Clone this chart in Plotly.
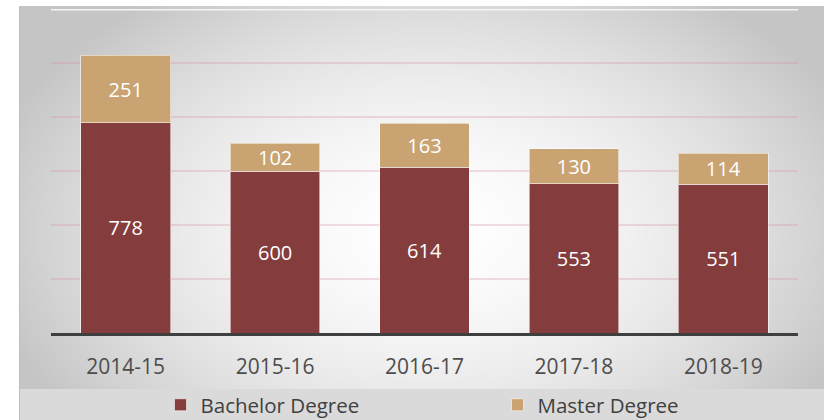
"""Degrees awarded by year - stacked bar chart"""
import base64
import struct
import zlib

import numpy as np
import plotly.graph_objects as go

years = ["2014-15", "2015-16", "2016-17", "2017-18", "2018-19"]
bachelor = [778, 600, 614, 553, 551]
master = [251, 102, 163, 130, 114]

BACHELOR_COLOR = "#843c3c"
MASTER_COLOR = "#c9a472"
FONT = "Open Sans, Lato, sans-serif"

W, H = 824, 420
L, R, T, B = 51, 26, 9, 87
PW, PH = W - L - R, H - T - B


def png_data_uri(arr):
    """Encode an HxWx3 uint8 array as a PNG data URI"""
    h, w, _ = arr.shape
    raw = b"".join(b"\x00" + arr[i].tobytes() for i in range(h))

    def chunk(tag, data):
        c = struct.pack(">I", len(data)) + tag + data
        return c + struct.pack(">I", zlib.crc32(tag + data) & 0xffffffff)

    png = (b"\x89PNG\r\n\x1a\n"
           + chunk(b"IHDR", struct.pack(">IIBBBBB", w, h, 8, 2, 0, 0, 0))
           + chunk(b"IDAT", zlib.compress(raw, 9))
           + chunk(b"IEND", b""))
    return "data:image/png;base64," + base64.b64encode(png).decode()


def background(x0=19, y0=6, x1=824, y1=420, band=389):
    """Radial grey gradient behind the chart plus a flat legend band"""
    ys, xs = np.mgrid[y0:y1, x0:x1].astype(float)
    t = np.sqrt(((xs - 430) / 480) ** 2 + ((ys - 230) / 310) ** 2)
    g = 255 - 58 * np.clip(t / 0.95, 0, 1) ** 1.7
    g[ys >= band] = 218
    g[:, 0] = 190
    img = np.repeat(g[..., None], 3, axis=2).astype(np.uint8)
    return png_data_uri(img), (x0, y0, x1, y1)


def px_to_paper(px, py):
    return (px - L) / PW, (H - B - py) / PH


fig = go.Figure()

for name, values, color in [("Bachelor Degree", bachelor, BACHELOR_COLOR),
                            ("Master Degree", master, MASTER_COLOR)]:
    fig.add_trace(go.Bar(
        x=years, y=values, name=name,
        marker=dict(color=color, line=dict(color="rgba(255,255,255,0.55)", width=1)),
        text=values, textposition="inside", insidetextanchor="middle",
        constraintext="none",
        textfont=dict(family=FONT, size=20, color="white"),
        width=0.6,
    ))

src, (bx0, by0, bx1, by1) = background()
ix0, iy0 = px_to_paper(bx0, by0)
fig.add_layout_image(dict(
    source=src, xref="paper", yref="paper",
    x=ix0, y=iy0, sizex=(bx1 - bx0) / PW, sizey=(by1 - by0) / PH,
    xanchor="left", yanchor="top", sizing="stretch", layer="below",
))

# top gridline is drawn lighter in the original
fig.add_shape(type="line", xref="paper", yref="y", x0=0, x1=1, y0=1200, y1=1200,
              line=dict(color="#f4f4f4", width=3), layer="between")

fig.update_layout(
    width=W, height=H,
    barmode="stack",
    paper_bgcolor="white",
    plot_bgcolor="rgba(0,0,0,0)",
    margin=dict(l=L, r=R, t=T, b=B, autoexpand=False),
    showlegend=True,
    legend=dict(orientation="h", x=0.1466, xanchor="left", y=-0.222, yanchor="middle",
                traceorder="normal",
                font=dict(family=FONT, size=20.5, color="#404040"),
                entrywidth=292, bgcolor="rgba(0,0,0,0)"),
    xaxis=dict(range=[-0.5, 4.5], showline=True, linecolor="#3f3f3f", linewidth=3,
               ticks="outside", ticklen=13, tickcolor="rgba(0,0,0,0)",
               tickfont=dict(family=FONT, size=21, color="#4d4d4d"),
               showgrid=False, fixedrange=True, automargin=False),
    yaxis=dict(range=[0, 1200], dtick=200, showticklabels=False,
               gridcolor="rgba(215,150,165,0.32)", gridwidth=2,
               zeroline=False, fixedrange=True, automargin=False),
)

fig.write_html("out.html", config={"displayModeBar": False},
               post_script="document.body.style.margin = '0';")
